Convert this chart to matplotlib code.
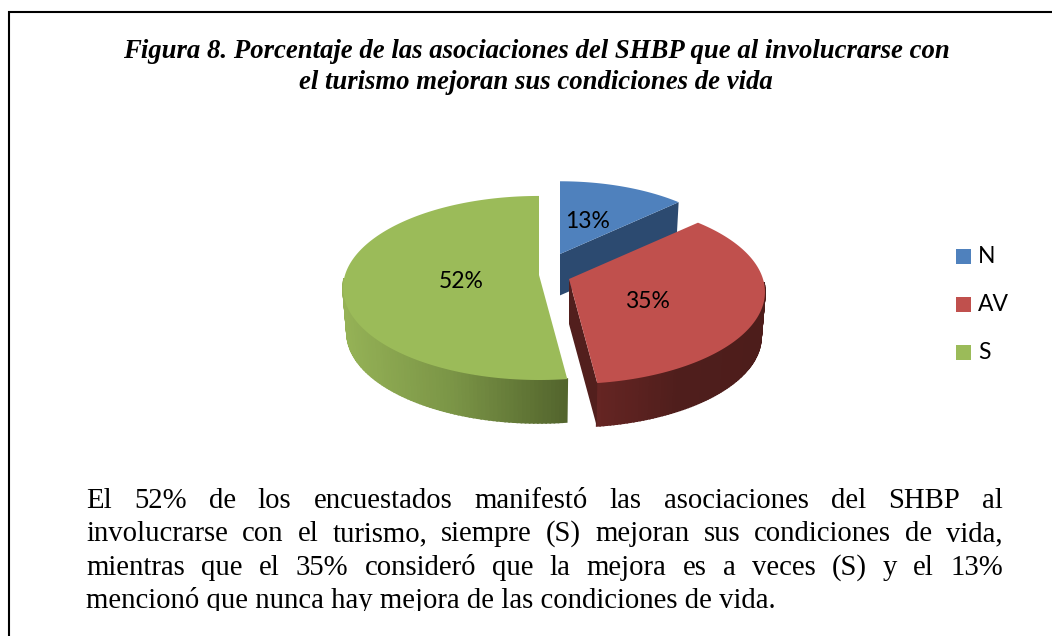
import numpy as np
import matplotlib
matplotlib.use("Agg")
import matplotlib.pyplot as plt
from matplotlib.colors import LinearSegmentedColormap
from matplotlib.patches import Rectangle

categories = ["N", "AV", "S"]
values = [13, 35, 52]
slice_colors = ["#4F81BD", "#C0504D", "#9BBB59"]

title_lines = [
    "Figura 8. Porcentaje de las asociaciones del SHBP que al involucrarse con",
    "el turismo mejoran sus condiciones de vida",
]
body_lines = [
    "El 52% de los encuestados manifestó las asociaciones del SHBP al",
    "involucrarse con el turismo, siempre (S) mejoran sus condiciones de vida,",
    "mientras que el 35% consideró que la mejora es a veces (S) y el 13%",
    "mencionó que nunca hay mejora de las condiciones de vida.",
]

# pie geometry, in pixels of the picture
centers = {"N": (560, 254), "AV": (569, 279), "S": (539, 275)}
scales = {"N": 0.92, "AV": 1.0, "S": 1.0}
label_pos = {"N": (588, 222), "AV": (647, 301), "S": (461, 282)}
RX, RY, K = 194.0, 90.2, 0.141
DEPTH, BOTTOM_SCALE = 45.0, 0.98

wall_ramps = {
    "AV": ["#662523", "#4F1E1C", "#4D1D1B"],
    "S": ["#95B256", "#7A9446", "#53652D"],
}
cut_colors = {"N": "#2C4A70", "AV": "#521F1D"}


def rim(theta, center, scale):
    # theta runs clockwise from the back of the pie, degrees
    t = np.radians(theta)
    u, v = np.sin(t), -np.cos(t)
    d = 1 - K * v
    return center[0] + scale * RX * u / d, center[1] + scale * RY * v / d


def top_rim(name, theta):
    return rim(theta, centers[name], scales[name])


def low_rim(name, theta):
    c = centers[name]
    s = scales[name]
    return rim(theta, (c[0], c[1] + DEPTH * s), s * BOTTOM_SCALE)


def draw_wall(ax, name, a, b, zorder):
    cmap = LinearSegmentedColormap.from_list(name, wall_ramps[name])
    thetas = np.linspace(a, b, 90)
    xt, yt = top_rim(name, thetas)
    xb, yb = low_rim(name, thetas)
    x0, x1 = xt.min(), xt.max()
    for i in range(len(thetas) - 1):
        col = cmap((xt[i] - x0) / (x1 - x0))
        ax.fill([xt[i], xt[i + 1], xb[i + 1], xb[i]],
                [yt[i], yt[i + 1], yb[i + 1], yb[i]],
                color=col, lw=1.2, zorder=zorder)


def draw_justified(ax, fig, line, x0, x1, y, **kw):
    words = line.split()
    r = fig.canvas.get_renderer()
    items = [ax.text(0, y, w, **kw) for w in words]
    widths = [t.get_window_extent(r).width for t in items]
    gap = (x1 - x0 - sum(widths)) / (len(words) - 1)
    x = x0
    for t, w in zip(items, widths):
        t.set_x(x)
        x += w + gap


fig = plt.figure(figsize=(10.52, 6.36), dpi=100)
ax = fig.add_axes([0, 0, 1, 1])
ax.set_xlim(0, 1052)
ax.set_ylim(636, 0)
ax.axis("off")

# page frame
ax.plot([8.5, 8.5, 1052], [636, 12, 12], color="black", lw=1.5,
        solid_joinstyle="miter", zorder=5)

serif = "Liberation Serif"
for line, y in zip(title_lines, [58, 89]):
    ax.text(536, y, line, family=serif, style="italic", weight="bold",
            fontsize=19.3, ha="center", va="baseline", color="black")

# slices go clockwise from the top
edges = np.concatenate([[0], np.cumsum(values)]) / sum(values) * 360
spans = {n: (edges[i], edges[i + 1]) for i, n in enumerate(categories)}

# S, the back of the wall is hidden so it stops at the left side
a, b = spans["S"]
draw_wall(ax, "S", a, 268, 2)
xs, ys = top_rim("S", np.linspace(a, b, 200))
ax.fill(np.r_[centers["S"][0], xs], np.r_[centers["S"][1], ys],
        color=slice_colors[2], lw=0, zorder=3)

# N, only the cut face shows
a, b = spans["N"]
cx, cy = centers["N"]
ex, ey = top_rim("N", b)
lx, ly = low_rim("N", b)
ax.fill([cx, ex, lx, cx], [cy, ey, ly, cy + DEPTH * scales["N"]],
        color=cut_colors["N"], lw=0, zorder=3)
xs, ys = top_rim("N", np.linspace(a, b, 80))
ax.fill(np.r_[cx, xs], np.r_[cy, ys], color=slice_colors[0], lw=0, zorder=4)

# AV
a, b = spans["AV"]
cx, cy = centers["AV"]
draw_wall(ax, "AV", 92, b, 5)
ex, ey = top_rim("AV", b)
lx, ly = low_rim("AV", b)
ax.fill([cx, ex, lx, cx], [cy, ey, ly, cy + DEPTH], color=cut_colors["AV"],
        lw=0, zorder=5)
xs, ys = top_rim("AV", np.linspace(a, b, 120))
ax.fill(np.r_[cx, xs], np.r_[cy, ys], color=slice_colors[1], lw=0, zorder=6)

sans = "Lato"
for name, val in zip(categories, values):
    ax.text(*label_pos[name], f"{val}%", family=sans, fontsize=16.5,
            ha="center", va="center", color="black", zorder=7)

# legend
for i, name in enumerate(categories):
    y = 249 + 48 * i
    ax.add_patch(Rectangle((956, y), 15, 15, color=slice_colors[i], lw=0))
    ax.text(978, y + 7.5, name, family=sans, fontsize=16.5, ha="left",
            va="center", color="black")

# body text, last line is not justified
fig.canvas.draw()
body_kw = dict(family=serif, fontsize=20.7, va="baseline", color="black")
baselines = [508, 541, 575, 608]
for line, y in zip(body_lines[:3], baselines[:3]):
    draw_justified(ax, fig, line, 86, 1003, y, **body_kw)
last = ax.text(86, baselines[3], body_lines[3], clip_on=True, **body_kw)
# the scan cuts the last line off just under its baseline
last.set_clip_path(Rectangle((0, 0), 1052, 611, transform=ax.transData))

fig.savefig("out.png", dpi=100, facecolor="white")
